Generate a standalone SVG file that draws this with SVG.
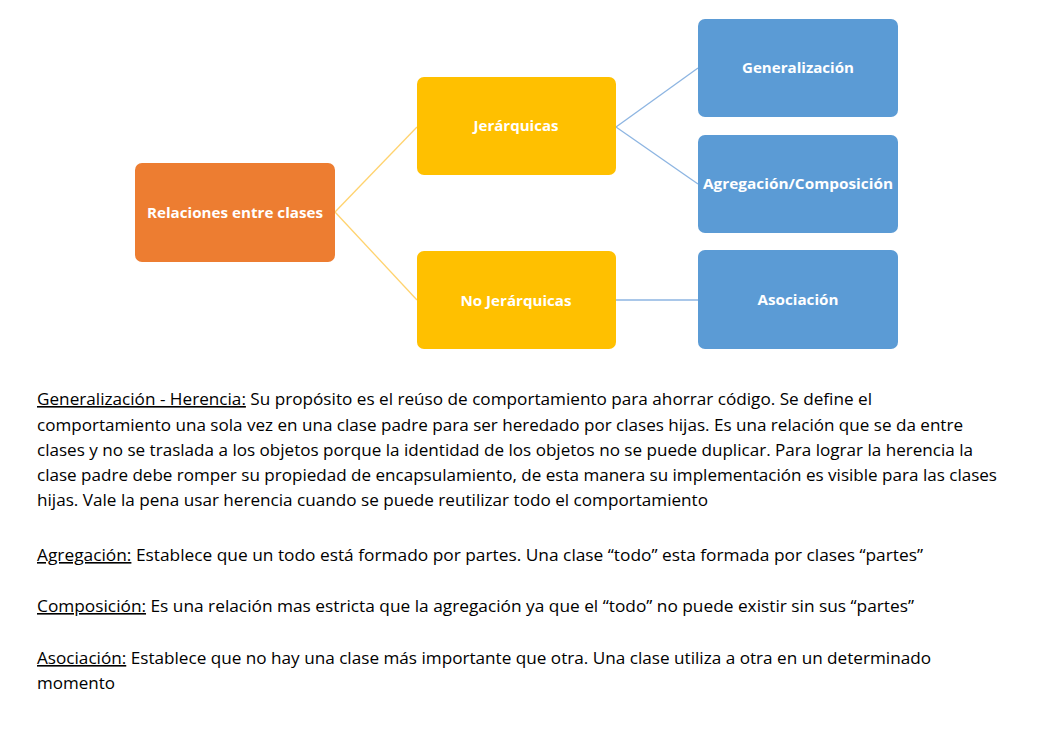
<svg xmlns="http://www.w3.org/2000/svg" width="1040" height="740" viewBox="0 0 1040 740">
<style>
.node text{font-family:"Open Sans","Liberation Sans",sans-serif;font-weight:bold;font-size:13.5px;fill:#ffffff;text-anchor:middle}
.orange{fill:#ED7D31}
.yellow{fill:#FFC000}
.blue{fill:#5B9BD5}
.c1{stroke:#FFD36E;stroke-width:1.3;fill:none}
.c2{stroke:#8DB5E2;stroke-width:1.3;fill:none}
.body{font-family:"Open Sans","Liberation Sans",sans-serif;font-size:16px;fill:#000000}
.u{text-decoration:underline}
</style>
<rect width="1040" height="740" fill="#ffffff"/>
<g id="connectors">
<path class="c1" d="M335 212 L417 127"/>
<path class="c1" d="M335 212 L417 300"/>
<path class="c2" d="M616 127 L698 68"/>
<path class="c2" d="M616 127 L698 184"/>
<path class="c2" d="M616 300 L698 300"/>
</g>
<g id="relaciones" class="node">
<rect class="orange" x="135" y="163" width="200" height="99" rx="7"/>
<text x="235" y="218" textLength="176" lengthAdjust="spacingAndGlyphs">Relaciones entre clases</text>
</g>
<g id="jerarquicas" class="node">
<rect class="yellow" x="417" y="77" width="199" height="98" rx="7"/>
<text x="516" y="131" textLength="85" lengthAdjust="spacingAndGlyphs">Jerárquicas</text>
</g>
<g id="nojerarquicas" class="node">
<rect class="yellow" x="417" y="251" width="199" height="98" rx="7"/>
<text x="516" y="306" textLength="111" lengthAdjust="spacingAndGlyphs">No Jerárquicas</text>
</g>
<g id="generalizacion" class="node">
<rect class="blue" x="698" y="19" width="200" height="98" rx="7"/>
<text x="798" y="73" textLength="112" lengthAdjust="spacingAndGlyphs">Generalización</text>
</g>
<g id="agregacion" class="node">
<rect class="blue" x="698" y="135" width="200" height="98" rx="7"/>
<text x="798" y="189" textLength="190" lengthAdjust="spacingAndGlyphs">Agregación/Composición</text>
</g>
<g id="asociacion" class="node">
<rect class="blue" x="698" y="250" width="200" height="99" rx="7"/>
<text x="798" y="305" textLength="81" lengthAdjust="spacingAndGlyphs">Asociación</text>
</g>
<g id="texto" class="body">
<text x="37" y="405" textLength="835" lengthAdjust="spacingAndGlyphs"><tspan class="u">Generalización - Herencia:</tspan> Su propósito es el reúso de comportamiento para ahorrar código. Se define el</text>
<text x="37" y="430.5" textLength="926" lengthAdjust="spacingAndGlyphs">comportamiento una sola vez en una clase padre para ser heredado por clases hijas. Es una relación que se da entre</text>
<text x="37" y="456" textLength="936" lengthAdjust="spacingAndGlyphs">clases y no se traslada a los objetos porque la identidad de los objetos no se puede duplicar. Para lograr la herencia la</text>
<text x="37" y="481" textLength="960" lengthAdjust="spacingAndGlyphs">clase padre debe romper su propiedad de encapsulamiento, de esta manera su implementación es visible para las clases</text>
<text x="37" y="506" textLength="671" lengthAdjust="spacingAndGlyphs">hijas. Vale la pena usar herencia cuando se puede reutilizar todo el comportamiento</text>
<text x="37" y="561" textLength="886" lengthAdjust="spacingAndGlyphs"><tspan class="u">Agregación:</tspan> Establece que un todo está formado por partes. Una clase “todo” esta formada por clases “partes”</text>
<text x="37" y="612" textLength="877" lengthAdjust="spacingAndGlyphs"><tspan class="u">Composición:</tspan> Es una relación mas estricta que la agregación ya que el “todo” no puede existir sin sus “partes”</text>
<text x="37" y="664" textLength="894" lengthAdjust="spacingAndGlyphs"><tspan class="u">Asociación:</tspan> Establece que no hay una clase más importante que otra. Una clase utiliza a otra en un determinado</text>
<text x="37" y="689" textLength="78" lengthAdjust="spacingAndGlyphs">momento</text>
</g>
</svg>
